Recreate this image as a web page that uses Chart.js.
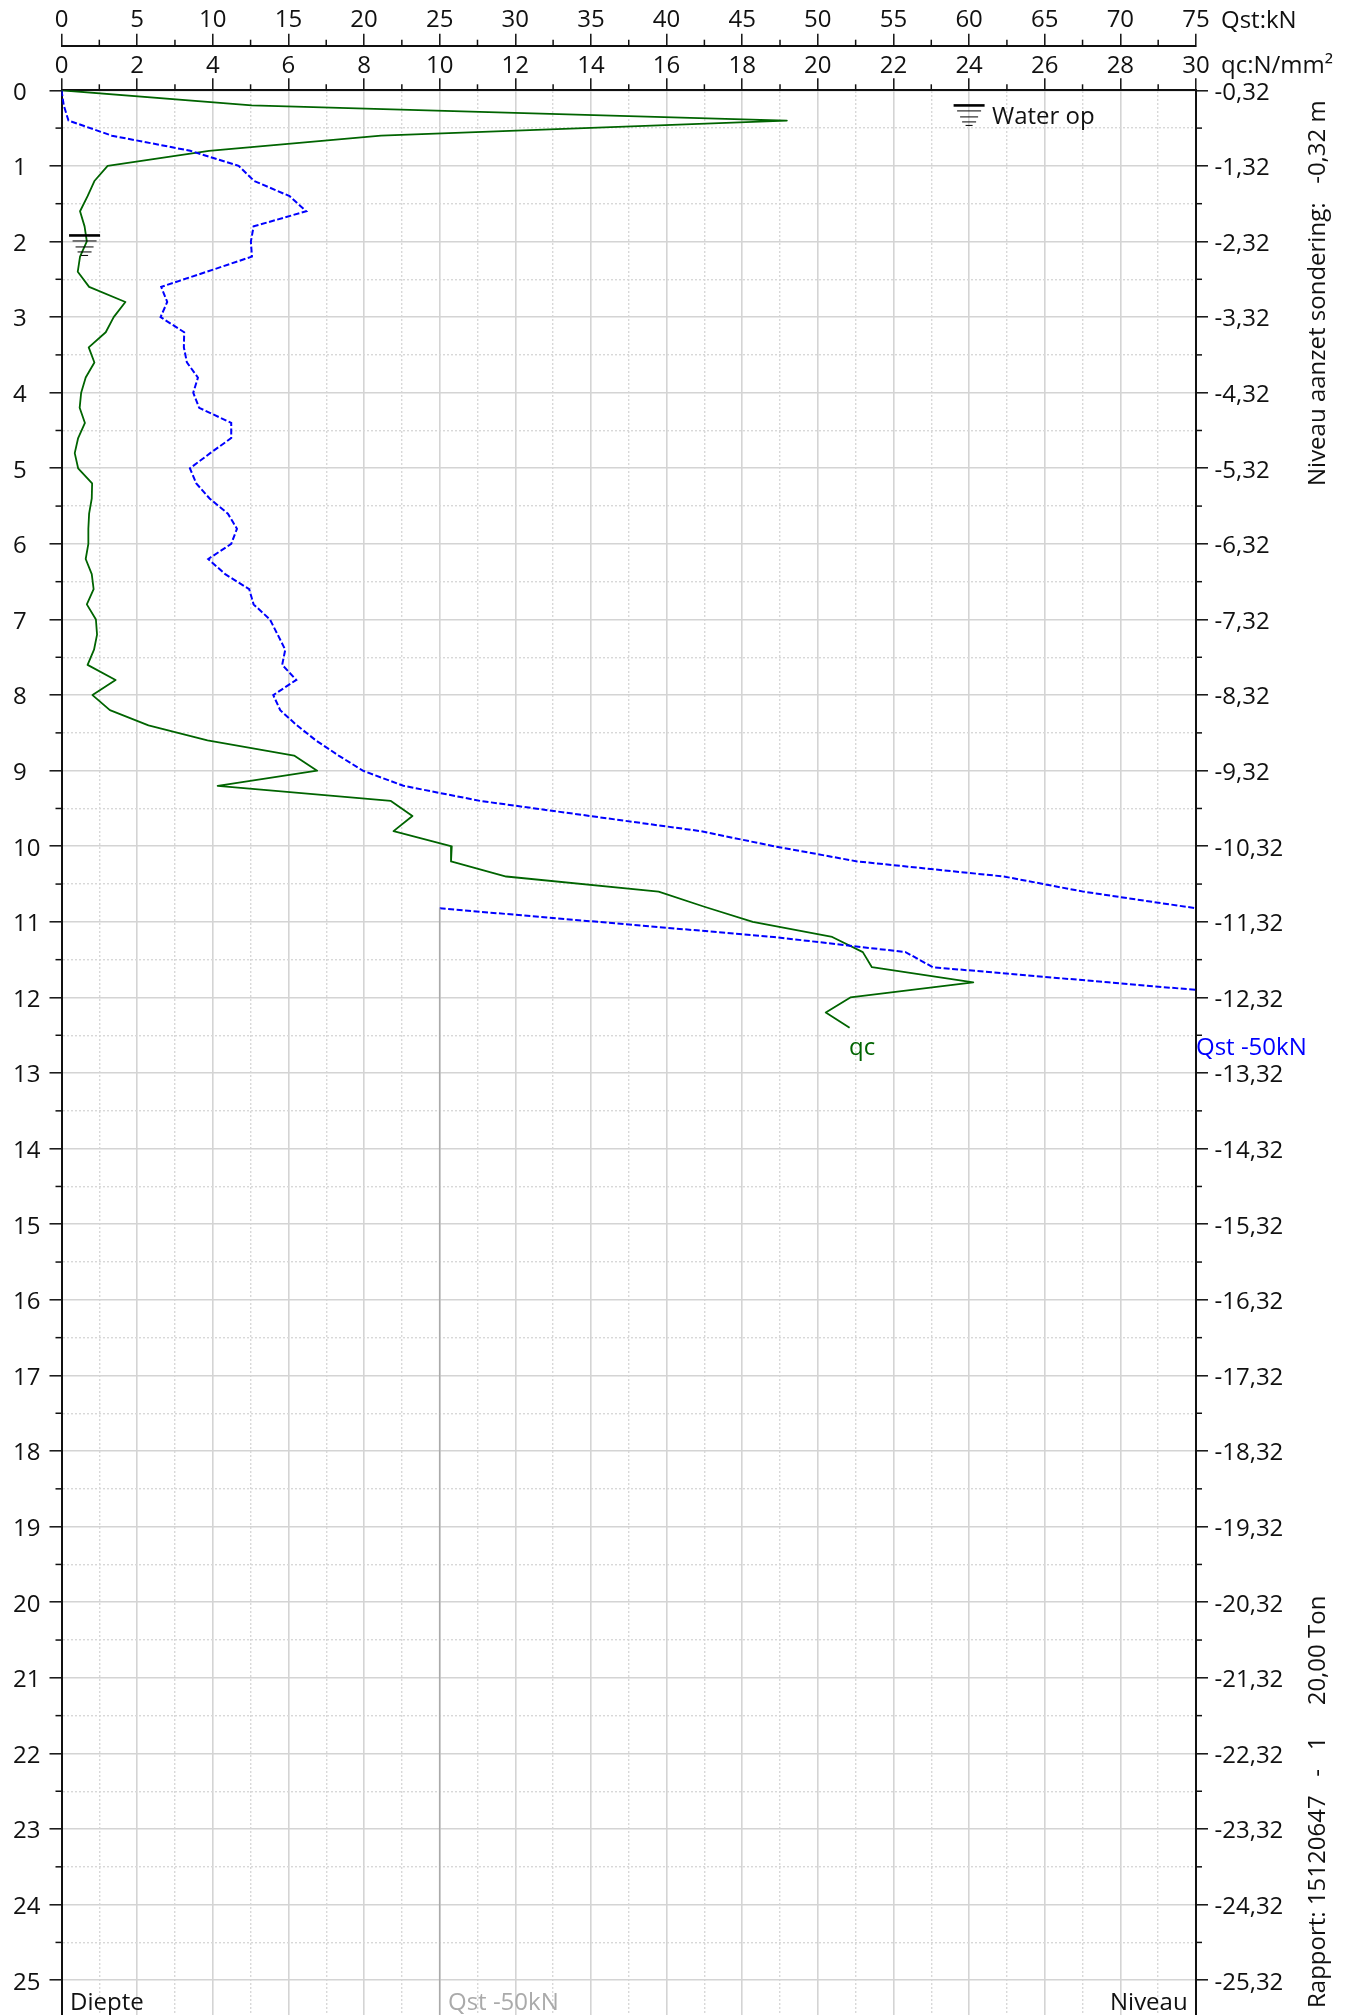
<!DOCTYPE html>
<html>
<head>
<meta charset="utf-8">
<title>Sondering 15120647</title>
<style>
  html, body { margin: 0; padding: 0; background: #fff; }
  canvas { display: block; }
</style>
<script src="https://cdn.jsdelivr.net/npm/chart.js@4/dist/chart.umd.min.js"></script>
</head>
<body>
<canvas id="cptChart" width="1356" height="2015"></canvas>
<script>
// qc in N/mm2, depth in m
const qcDepth = [0, 0.2, 0.4, 0.6, 0.8, 1, 1.2, 1.4, 1.6, 1.8, 2, 2.2, 2.4, 2.6, 2.8, 3, 3.2, 3.4, 3.6, 3.8, 4,
  4.2, 4.4, 4.6, 4.8, 5, 5.2, 5.4, 5.6, 5.8, 6, 6.2, 6.4, 6.6, 6.8, 7, 7.2, 7.4, 7.6, 7.8, 8,
  8.2, 8.4, 8.6, 8.8, 9, 9.2, 9.4, 9.6, 9.8, 10, 10.2, 10.4, 10.6, 10.8, 11, 11.2, 11.4, 11.6, 11.8, 12, 12.2, 12.4];
const qcValues = [0, 5.03, 19.18, 8.45, 3.9, 1.22, 0.87, 0.69, 0.49, 0.61, 0.67, 0.49, 0.43, 0.73, 1.69, 1.38, 1.17, 0.72, 0.87, 0.64, 0.52,
  0.48, 0.62, 0.44, 0.35, 0.44, 0.81, 0.80, 0.73, 0.71, 0.71, 0.64, 0.80, 0.85, 0.67, 0.91, 0.94, 0.86, 0.69, 1.43, 0.82,
  1.28, 2.30, 3.86, 6.15, 6.76, 4.13, 8.71, 9.28, 8.78, 10.32, 10.30, 11.76, 15.79, 17.0, 18.28, 20.38, 21.19, 21.43, 24.11, 20.86, 20.21, 20.84];

// Qst in kN, first run up to the right edge of the plot
const qstDepth = [0, 0.2, 0.4, 0.6, 0.8, 1, 1.2, 1.4, 1.6, 1.8, 2, 2.2, 2.4, 2.6, 2.8, 3, 3.2, 3.4, 3.6, 3.8, 4,
  4.2, 4.4, 4.6, 4.8, 5, 5.2, 5.4, 5.6, 5.8, 6, 6.2, 6.4, 6.6, 6.8, 7, 7.2, 7.4, 7.6, 7.8, 8,
  8.2, 8.4, 8.6, 8.8, 9, 9.2, 9.4, 9.6, 9.8, 10, 10.2, 10.4, 10.6, 10.82];
const qstValues = [0, 0.15, 0.46, 3.33, 8.51, 11.71, 12.74, 15.08, 16.18, 12.70, 12.52, 12.59, 9.61, 6.59, 6.99, 6.55, 8.11, 8.09, 8.29, 9.02, 8.71,
  9.10, 11.22, 11.22, 9.83, 8.49, 8.91, 9.79, 11.0, 11.6, 11.22, 9.70, 10.82, 12.41, 12.70, 13.78, 14.29, 14.79, 14.59, 15.52, 14.0,
  14.46, 15.56, 16.82, 18.32, 19.92, 22.6, 27.68, 34.96, 42.26, 47.1, 52.6, 62.3, 67.55, 75];

// Qst minus 50 kN, after the scale wrapped
const qstWrapDepth = [10.82, 11, 11.2, 11.4, 11.6, 11.8, 11.9];
const qstWrapValues = [25, 35.46, 47.1, 55.8, 57.6, 69.2, 75];
const wrapLineDepth = [10.82, 25.46];
const wrapLineValues = [25, 25];

const depthLabels = ['0', '1', '2', '3', '4', '5', '6', '7', '8', '9', '10', '11', '12',
  '13', '14', '15', '16', '17', '18', '19', '20', '21', '22', '23', '24', '25'];
const niveauLabels = ['-0,32', '-1,32', '-2,32', '-3,32', '-4,32', '-5,32', '-6,32', '-7,32', '-8,32', '-9,32',
  '-10,32', '-11,32', '-12,32', '-13,32', '-14,32', '-15,32', '-16,32', '-17,32', '-18,32', '-19,32',
  '-20,32', '-21,32', '-22,32', '-23,32', '-24,32', '-25,32'];

// water symbols, on the qc axis
const waterQc = [24, 0.61];
const waterDepth = [0.2, 1.92];

const FONT = '"Open Sans", sans-serif';
const GRID = '#d4d4d4';

function toPoints(xs, ys) {
  return xs.map((x, i) => ({ x: x, y: ys[i] }));
}

function isMajor(scale, value) {
  if (scale.id === 'xQst') return value % 5 === 0;
  if (scale.id === 'x') return value % 2 === 0;
  return Number.isInteger(value);
}

function fixSize(prop, size) {
  return (scale) => {
    scale[prop] = size;
    scale.paddingTop = 0;
    scale.paddingBottom = 0;
  };
}

function gridOpts(scriptedGrid) {
  return {
    drawOnChartArea: scriptedGrid,
    tickLength: 12,
    tickWidth: 1.5,
    lineWidth: (ctx) => (ctx.tick && isMajor(ctx.scale, ctx.tick.value) ? 1.6 : 1.4),
    color: (ctx) => (ctx.tick && isMajor(ctx.scale, ctx.tick.value) ? GRID : '#d8d8d8'),
    tickColor: (ctx) => (ctx.tick && isMajor(ctx.scale, ctx.tick.value) ? '#111' : 'rgba(0,0,0,0)')
  };
}

function borderOpts() {
  return {
    color: '#111',
    width: 2,
    dash: (ctx) => (ctx.tick && !isMajor(ctx.scale, ctx.tick.value) ? [2, 2] : [])
  };
}

function tickOpts(step, extra) {
  return Object.assign({
    stepSize: step,
    includeBounds: false,
    autoSkip: false,
    maxRotation: 0,
    minRotation: 0,
    color: '#111',
    font: { family: FONT, size: 24 }
  }, extra);
}

// short ticks between the labelled ones
const minorTicks = {
  id: 'minorTicks',
  afterDraw(chart) {
    const c = chart.ctx;
    c.save();
    c.strokeStyle = '#111';
    c.lineWidth = 1.5;
    Object.values(chart.scales).forEach((scale) => {
      scale.ticks.forEach((t) => {
        if (isMajor(scale, t.value)) return;
        const p = scale.getPixelForValue(t.value);
        c.beginPath();
        if (scale.id === 'y') { c.moveTo(chart.chartArea.left, p); c.lineTo(chart.chartArea.left - 6, p); }
        if (scale.id === 'y2') { c.moveTo(chart.chartArea.right, p); c.lineTo(chart.chartArea.right + 6, p); }
        if (scale.id === 'x' || scale.id === 'xQst') { c.moveTo(p, scale.bottom); c.lineTo(p, scale.bottom - 6); }
        c.stroke();
      });
    });
    c.restore();
  }
};

const waterSymbols = {
  id: 'waterSymbols',
  afterDatasetsDraw(chart) {
    const c = chart.ctx;
    const bars = [[15.5, 0, 2.6], [12, 5.5, 1], [9, 11.5, 1], [7, 16.5, 1], [3.5, 20, 1]];
    c.save();
    c.strokeStyle = '#000';
    waterQc.forEach((q, i) => {
      const px = chart.scales.x.getPixelForValue(q);
      const py = chart.scales.y.getPixelForValue(waterDepth[i]);
      bars.forEach((b) => {
        c.lineWidth = b[2];
        c.beginPath();
        c.moveTo(px - b[0], py + b[1]);
        c.lineTo(px + b[0], py + b[1]);
        c.stroke();
      });
    });
    c.restore();
  }
};

const captions = {
  id: 'captions',
  afterDraw(chart) {
    const c = chart.ctx;
    const put = (text, x, y, color) => {
      c.fillStyle = color || '#111';
      c.fillText(text, x, y);
    };
    c.save();
    c.font = '24px ' + FONT;
    c.textBaseline = 'middle';
    c.textAlign = 'left';
    // depth labels are flush left in the original, the axis can't do that
    depthLabels.forEach((label, i) => {
      put(label, 13, chart.scales.y.getPixelForValue(i) + 2.5);
    });
    put('Qst:kN', 1221, 21);
    put('qc:N/mm²', 1221, 66);
    put('Water op', 992, 117);
    put('qc', 849, 1048, '#006400');
    put('Qst -50kN', 1196, 1048, '#0000ff');
    put('Diepte', 70, 2003);
    put('Qst -50kN', 448, 2003, '#aaaaaa');
    put('Niveau', 1110, 2003);

    c.translate(1318, 486);
    c.rotate(-Math.PI / 2);
    put('Niveau aanzet sondering:   -0,32 m', 0, 0);
    c.rotate(Math.PI / 2);
    c.translate(0, 2008 - 486);
    c.rotate(-Math.PI / 2);
    put('Rapport: 15120647   -   1     20,00 Ton', 0, 0);
    c.restore();
  }
};

new Chart(document.getElementById('cptChart'), {
  type: 'scatter',
  data: {
    datasets: [
      { label: 'Qst -50kN lijn', data: toPoints(wrapLineValues, wrapLineDepth), xAxisID: 'xQst', yAxisID: 'y', showLine: true, borderColor: '#aaaaaa', borderWidth: 1.5, pointRadius: 0 },
      { label: 'Qst', data: toPoints(qstValues, qstDepth), xAxisID: 'xQst', yAxisID: 'y', showLine: true, borderColor: '#0000ff', borderWidth: 2, borderDash: [6, 2.5], pointRadius: 0 },
      { label: 'Qst -50kN', data: toPoints(qstWrapValues, qstWrapDepth), xAxisID: 'xQst', yAxisID: 'y', showLine: true, borderColor: '#0000ff', borderWidth: 2, borderDash: [6, 2.5], pointRadius: 0 },
      { label: 'qc', data: toPoints(qcValues, qcDepth), xAxisID: 'x', yAxisID: 'y', showLine: true, borderColor: '#006400', borderWidth: 1.8, borderJoinStyle: 'round', pointRadius: 0 }
    ]
  },
  plugins: [minorTicks, waterSymbols, captions],
  options: {
    responsive: false,
    animation: false,
    layout: { padding: 0 },
    plugins: { legend: { display: false }, tooltip: { enabled: false } },
    scales: {
      x: {
        type: 'linear', position: 'top', weight: 0, min: 0, max: 30,
        afterFit: fixSize('height', 44.6),
        grid: gridOpts(true),
        border: borderOpts(),
        ticks: tickOpts(1, { padding: -2, callback: (v) => (v % 2 === 0 ? String(v) : '') })
      },
      xQst: {
        type: 'linear', axis: 'x', position: 'top', weight: 1, min: 0, max: 75,
        afterFit: fixSize('height', 45.7),
        grid: gridOpts(false),
        border: borderOpts(),
        ticks: tickOpts(2.5, { padding: -1, callback: (v) => (v % 5 === 0 ? String(v) : '') })
      },
      y: {
        type: 'linear', position: 'left', reverse: true, min: 0, max: 25.46,
        afterFit: fixSize('width', 61.5),
        grid: gridOpts(true),
        border: borderOpts(),
        ticks: tickOpts(0.5, { callback: () => '' })
      },
      y2: {
        type: 'linear', axis: 'y', position: 'right', reverse: true, min: 0, max: 25.46,
        afterFit: fixSize('width', 160),
        grid: gridOpts(false),
        border: borderOpts(),
        ticks: tickOpts(0.5, { padding: 6.5, labelOffset: 2.5, callback: (v) => (Number.isInteger(v) ? niveauLabels[v] : '') })
      }
    }
  }
});
</script>
</body>
</html>
